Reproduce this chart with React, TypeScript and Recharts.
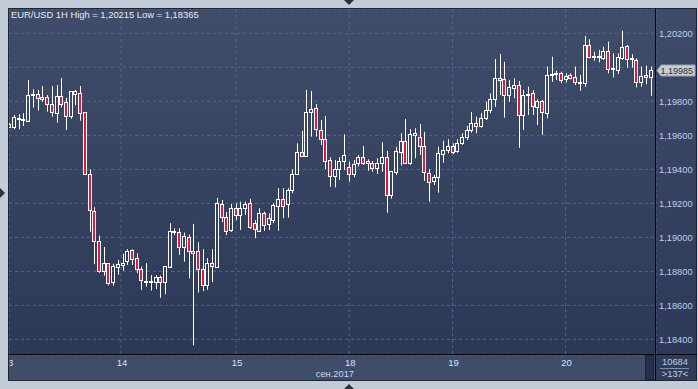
import React from 'react';
import { ComposedChart, Bar, XAxis, YAxis, CartesianGrid, ReferenceLine } from 'recharts';

const opens = [
  1.19665, 1.19647, 1.19698, 1.19692, 1.19686, 1.19837, 1.19841, 1.19812, 1.19824, 1.19783,
  1.19730, 1.19831, 1.19794, 1.19715, 1.19859, 1.19847, 1.19735, 1.19371, 1.19153, 1.18977,
  1.18804, 1.18848, 1.18736, 1.18824, 1.18839, 1.18863, 1.18926, 1.18877, 1.18812, 1.18745,
  1.18743, 1.18736, 1.18765, 1.18736, 1.18828, 1.19039, 1.19032, 1.18942, 1.19000, 1.18918,
  1.18918, 1.18816, 1.18718, 1.18848, 1.18828, 1.19196, 1.19120, 1.19043, 1.19171, 1.19132,
  1.19171, 1.19200, 1.19083, 1.19039, 1.19142, 1.19079, 1.19102, 1.19185, 1.19226, 1.19195,
  1.19279, 1.19371, 1.19502, 1.19477, 1.19735, 1.19759, 1.19631, 1.19580, 1.19455, 1.19363,
  1.19404, 1.19451, 1.19416, 1.19373, 1.19436, 1.19474, 1.19449, 1.19436, 1.19406, 1.19436,
  1.19474, 1.19247, 1.19386, 1.19504, 1.19568, 1.19436, 1.19604, 1.19588, 1.19537, 1.19377,
  1.19333, 1.19353, 1.19489, 1.19514, 1.19537, 1.19508, 1.19557, 1.19588, 1.19631, 1.19671,
  1.19657, 1.19700, 1.19749, 1.19812, 1.19939, 1.19930, 1.19837, 1.19877, 1.19894, 1.19720,
  1.19843, 1.19851, 1.19765, 1.19802, 1.19730, 1.19955, 1.19965, 1.19965, 1.19930, 1.19955,
  1.19941, 1.19915, 1.19910, 1.20131, 1.20067, 1.20068, 1.20057, 1.20096, 1.19994, 1.19982,
  1.20053, 1.20125, 1.20053, 1.20043, 1.19912, 1.19955, 1.19945,
];

const highs = [
  1.19673, 1.19720, 1.19724, 1.19730, 1.19925, 1.19872, 1.19867, 1.19890, 1.19837, 1.19890,
  1.19896, 1.19937, 1.19821, 1.19859, 1.19867, 1.19890, 1.19735, 1.19400, 1.19177, 1.19010,
  1.18943, 1.18848, 1.18845, 1.18867, 1.18904, 1.18930, 1.18930, 1.18906, 1.18828, 1.18848,
  1.18779, 1.18777, 1.18775, 1.18832, 1.19083, 1.19053, 1.19053, 1.19028, 1.19016, 1.19079,
  1.18971, 1.18930, 1.18877, 1.18930, 1.19232, 1.19220, 1.19149, 1.19196, 1.19200, 1.19210,
  1.19210, 1.19226, 1.19102, 1.19171, 1.19151, 1.19142, 1.19200, 1.19289, 1.19289, 1.19289,
  1.19400, 1.19553, 1.19626, 1.19867, 1.19861, 1.19784, 1.19690, 1.19714, 1.19471, 1.19455,
  1.19471, 1.19606, 1.19445, 1.19455, 1.19484, 1.19537, 1.19459, 1.19449, 1.19465, 1.19559,
  1.19508, 1.19390, 1.19533, 1.19612, 1.19696, 1.19637, 1.19641, 1.19667, 1.19621, 1.19400,
  1.19367, 1.19533, 1.19568, 1.19577, 1.19553, 1.19577, 1.19612, 1.19655, 1.19737, 1.19710,
  1.19730, 1.19798, 1.19847, 1.20049, 1.20078, 1.20033, 1.19925, 1.19935, 1.19920, 1.19867,
  1.19886, 1.19867, 1.19812, 1.19808, 1.20004, 1.20062, 1.19980, 1.19974, 1.19965, 1.19965,
  1.20004, 1.19955, 1.20184, 1.20165, 1.20092, 1.20102, 1.20121, 1.20151, 1.20082, 1.20082,
  1.20215, 1.20131, 1.20077, 1.20053, 1.20004, 1.20010, 1.20004,
];

const lows = [
  1.19643, 1.19636, 1.19636, 1.19655, 1.19686, 1.19763, 1.19745, 1.19798, 1.19739, 1.19710,
  1.19674, 1.19765, 1.19631, 1.19698, 1.19777, 1.19686, 1.19371, 1.19033, 1.18842, 1.18792,
  1.18775, 1.18718, 1.18716, 1.18781, 1.18804, 1.18838, 1.18838, 1.18789, 1.18691, 1.18710,
  1.18687, 1.18697, 1.18645, 1.18665, 1.18828, 1.19014, 1.18896, 1.18857, 1.18759, 1.18365,
  1.18675, 1.18683, 1.18691, 1.18736, 1.18826, 1.19090, 1.19014, 1.19032, 1.19102, 1.19043,
  1.19132, 1.19049, 1.18995, 1.19039, 1.19038, 1.19043, 1.19083, 1.19039, 1.19112, 1.19116,
  1.19259, 1.19367, 1.19477, 1.19477, 1.19592, 1.19592, 1.19543, 1.19400, 1.19298, 1.19294,
  1.19337, 1.19396, 1.19327, 1.19353, 1.19416, 1.19426, 1.19392, 1.19386, 1.19373, 1.19386,
  1.19145, 1.19227, 1.19367, 1.19422, 1.19431, 1.19426, 1.19465, 1.19484, 1.19332, 1.19210,
  1.19308, 1.19263, 1.19439, 1.19494, 1.19490, 1.19498, 1.19543, 1.19573, 1.19616, 1.19612,
  1.19645, 1.19690, 1.19730, 1.19768, 1.19837, 1.19704, 1.19798, 1.19818, 1.19527, 1.19631,
  1.19720, 1.19720, 1.19661, 1.19602, 1.19700, 1.19915, 1.19925, 1.19906, 1.19912, 1.19930,
  1.19896, 1.19862, 1.19886, 1.20053, 1.20039, 1.20029, 1.20043, 1.19965, 1.19941, 1.19961,
  1.20043, 1.19998, 1.19998, 1.19882, 1.19886, 1.19900, 1.19833,
];

const closes = [
  1.19649, 1.19710, 1.19704, 1.19698, 1.19837, 1.19841, 1.19818, 1.19827, 1.19783, 1.19735,
  1.19831, 1.19783, 1.19714, 1.19859, 1.19841, 1.19730, 1.19371, 1.19159, 1.18977, 1.18804,
  1.18848, 1.18730, 1.18832, 1.18844, 1.18851, 1.18922, 1.18871, 1.18816, 1.18748, 1.18739,
  1.18738, 1.18765, 1.18739, 1.18832, 1.19039, 1.19030, 1.18942, 1.19006, 1.18918, 1.18910,
  1.18816, 1.18718, 1.18848, 1.18834, 1.19202, 1.19120, 1.19038, 1.19171, 1.19132, 1.19171,
  1.19196, 1.19063, 1.19049, 1.19142, 1.19073, 1.19112, 1.19190, 1.19226, 1.19185, 1.19279,
  1.19371, 1.19502, 1.19477, 1.19735, 1.19753, 1.19636, 1.19580, 1.19449, 1.19359, 1.19400,
  1.19447, 1.19483, 1.19373, 1.19430, 1.19471, 1.19439, 1.19436, 1.19406, 1.19436, 1.19471,
  1.19247, 1.19390, 1.19508, 1.19568, 1.19436, 1.19606, 1.19612, 1.19537, 1.19384, 1.19327,
  1.19353, 1.19498, 1.19514, 1.19537, 1.19504, 1.19553, 1.19588, 1.19631, 1.19671, 1.19655,
  1.19700, 1.19749, 1.19812, 1.19935, 1.19925, 1.19837, 1.19882, 1.19894, 1.19720, 1.19837,
  1.19837, 1.19773, 1.19802, 1.19735, 1.19955, 1.19961, 1.19959, 1.19925, 1.19949, 1.19935,
  1.19915, 1.19910, 1.20131, 1.20062, 1.20061, 1.20062, 1.20096, 1.19988, 1.19988, 1.20059,
  1.20118, 1.20047, 1.20047, 1.19912, 1.19949, 1.19941, 1.19985,
];

const dayTickPositions = [-0.15, 23.6, 48, 72, 93.9, 117.9];
const dayTickLabels = ['13', '14', '15', '18', '19', '20'];
const priceTicks = [1.184, 1.186, 1.188, 1.19, 1.192, 1.194, 1.196, 1.198, 1.2, 1.202];
const hiddenPriceTick = 1.2;
const lastPrice = 1.19985;
const titleText = 'EUR/USD 1H High = 1,20215 Low = 1,18365';
const monthLabel = 'сен.2017';
const volumeText = '10684';
const barsText = '>137<';

const data = opens.map((o, i) => ({
  i,
  open: o,
  high: highs[i],
  low: lows[i],
  close: closes[i],
  range: [lows[i], highs[i]],
}));

const FONT = '"Liberation Sans", Arial, sans-serif';
const fmt = (v: number) => v.toFixed(5).replace('.', ',');

const Candle = (props: any) => {
  const { x, y, width, height, payload } = props;
  if (!payload || height == null) return null;
  const { open, close, high, low } = payload;
  const cx = Math.round(x + width / 2) + 0.5;
  const ratio = height / (high - low);
  const yO = y + (high - open) * ratio;
  const yC = y + (high - close) * ratio;
  const top = Math.round(Math.min(yO, yC)) + 0.5;
  const bot = Math.max(Math.round(Math.max(yO, yC)) + 0.5, top + 1);
  const up = close >= open;
  return (
    <g>
      <line x1={cx} x2={cx} y1={y} y2={top} stroke="#ffffff" strokeWidth={1} />
      <line x1={cx} x2={cx} y1={bot} y2={y + height} stroke="#ffffff" strokeWidth={1} />
      <rect
        x={cx - 2}
        y={top}
        width={3}
        height={bot - top}
        fill={up ? 'none' : '#e3173a'}
        stroke="#ffffff"
        strokeWidth={1}
      />
    </g>
  );
};

const DayTick = (props: any) => {
  const { x, y, payload } = props;
  const k = dayTickPositions.indexOf(payload.value);
  const text = k >= 0 ? dayTickLabels[k] : '';
  if (k === 0) {
    return (
      <g>
        <defs>
          <clipPath id="firstDayClip">
            <rect x={x + 0.5} y={y} width={30} height={20} />
          </clipPath>
        </defs>
        <text
          x={x - 1}
          y={y}
          dy={11}
          textAnchor="middle"
          fill="#d4e2f6"
          fontSize={9.5}
          fontFamily={FONT}
          clipPath="url(#firstDayClip)"
        >
          {text}
        </text>
      </g>
    );
  }
  return (
    <text x={x + 1} y={y} dy={11} textAnchor="middle" fill="#d4e2f6" fontSize={9.5} fontFamily={FONT}>
      {text}
    </text>
  );
};

const PriceTick = (props: any) => {
  const { x, y, payload } = props;
  if (Math.abs(payload.value - hiddenPriceTick) < 1e-9) return <g />;
  return (
    <text x={x} y={y} dy={3.5} textAnchor="start" fill="#b9d0f0" fontSize={9.3} fontFamily={FONT}>
      {fmt(payload.value)}
    </text>
  );
};

const PriceTag = (props: any) => {
  const vb = props.viewBox || {};
  const x0 = (vb.x || 0) + (vb.width || 0) + 1;
  const yc = Math.round(vb.y || 0) + 0.5;
  const pts = `${x0},${yc} ${x0 + 4},${yc - 5.5} ${x0 + 38},${yc - 5.5} ${x0 + 38},${yc + 5.5} ${x0 + 4},${yc + 5.5}`;
  return (
    <g>
      <polygon points={pts} fill="#c9ccd0" stroke="#9aa2ac" strokeWidth={1} />
      <text x={x0 + 3.5} y={yc} dy={3.3} fill="#2a3038" fontSize={9} fontFamily={FONT}>
        {fmt(lastPrice)}
      </text>
    </g>
  );
};

export default function App() {
  return (
    <div
      style={{
        position: 'absolute',
        left: 0,
        top: 0,
        width: 698,
        height: 389,
        background: '#c3cbd7',
        overflow: 'hidden',
      }}
    >
      <div
        style={{
          position: 'absolute',
          left: 8,
          top: 8,
          width: 648,
          height: 347,
          background: 'linear-gradient(#3f4c6a, #2b3856)',
        }}
      />
      <div
        style={{
          position: 'absolute',
          left: 656,
          top: 8,
          width: 41,
          height: 347,
          background: 'linear-gradient(#3e4b69, #2c3957)',
        }}
      />
      <div style={{ position: 'absolute', left: 8, top: 355, width: 648, height: 26, background: '#3f4d6b' }} />
      <div style={{ position: 'absolute', left: 656, top: 355, width: 41, height: 26, background: '#303c59' }} />

      <div style={{ position: 'absolute', left: 0, top: 0 }}>
        <ComposedChart
          width={698}
          height={389}
          data={data}
          margin={{ top: 9, right: 1, bottom: 8, left: 9 }}
        >
          <CartesianGrid stroke="#56668a" strokeDasharray="3 3" />
          <XAxis
            type="number"
            dataKey="i"
            domain={[-0.15, 137.07]}
            ticks={dayTickPositions}
            interval={0}
            allowDataOverflow
            tickLine={false}
            axisLine={false}
            tickSize={0}
            tickMargin={0}
            height={26}
            tick={<DayTick />}
          />
          <YAxis
            orientation="right"
            type="number"
            domain={[1.18308, 1.20343]}
            ticks={priceTicks}
            interval={0}
            allowDataOverflow
            tickLine={false}
            axisLine={false}
            tickSize={0}
            tickMargin={3}
            width={41}
            tick={<PriceTick />}
          />
          <Bar dataKey="range" barSize={4} shape={<Candle />} isAnimationActive={false} />
          <ReferenceLine
            y={lastPrice}
            stroke="none"
            ifOverflow="visible"
            label={(p: any) => <PriceTag {...p} />}
          />
        </ComposedChart>
      </div>

      <svg
        width={698}
        height={389}
        style={{ position: 'absolute', left: 0, top: 0, pointerEvents: 'none' }}
      >
        <rect x={8.5} y={8.5} width={688} height={372} fill="none" stroke="#1d2536" strokeWidth={1} />
        <line x1={655.5} x2={655.5} y1={8} y2={381} stroke="#05070c" strokeWidth={1} />
        <line x1={8} x2={697} y1={354.5} y2={354.5} stroke="#05070c" strokeWidth={1} />
        <rect x={645.5} y={355.5} width={8} height={24} fill="#26304b" stroke="#1c2438" strokeWidth={1} />
        <line x1={660} x2={689} y1={368.5} y2={368.5} stroke="#7f8ea8" strokeWidth={1} />
        <text x={11} y={17.5} fill="#e4ebf5" fontSize={9.4} fontFamily={FONT}>
          {titleText}
        </text>
        <text x={354} y={377} textAnchor="end" fill="#c9d8f0" fontSize={9.3} fontFamily={FONT}>
          {monthLabel}
        </text>
        <text x={675} y={365} textAnchor="middle" fill="#b9cdea" fontSize={9.3} fontFamily={FONT}>
          {volumeText}
        </text>
        <text x={675} y={377} textAnchor="middle" fill="#b9cdea" fontSize={9.3} fontFamily={FONT}>
          {barsText}
        </text>
        <polygon points="344,0 354,0 349,5" fill="#2b3140" />
        <polygon points="344,389 354,389 349,384" fill="#2b3140" />
        <polygon points="0,188 0,198 5,193" fill="#2b3140" />
      </svg>
    </div>
  );
}
